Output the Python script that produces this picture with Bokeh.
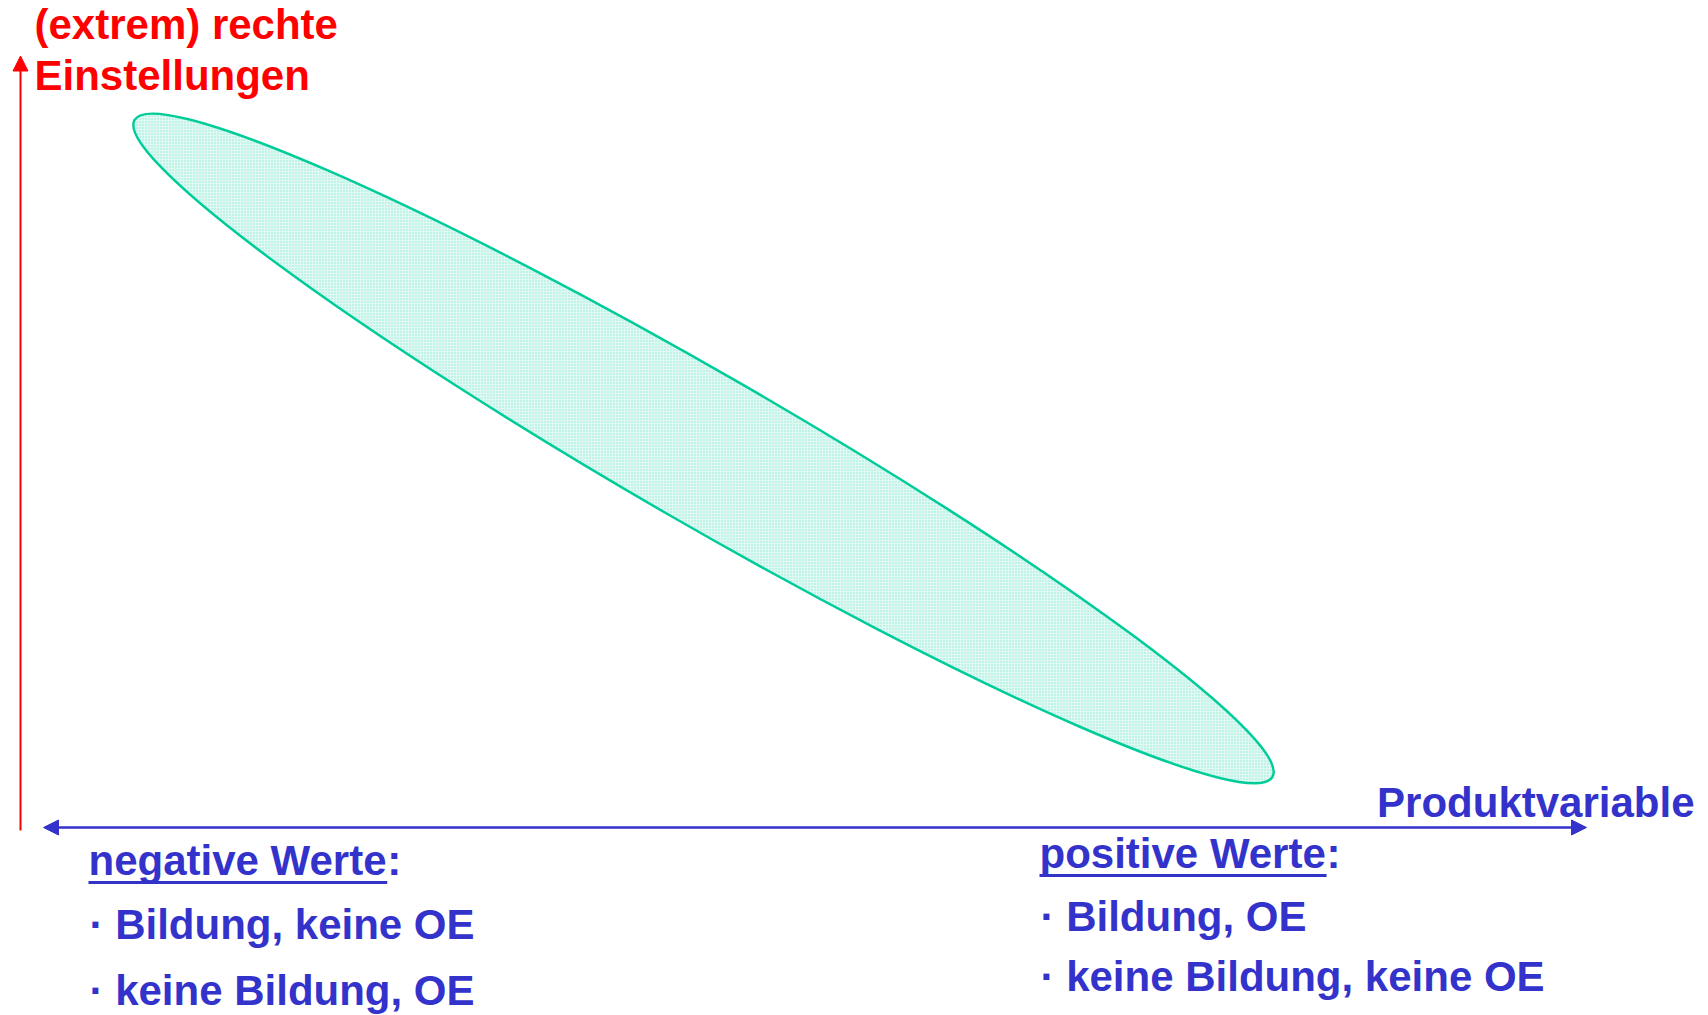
from bokeh.plotting import figure
from bokeh.models import Range1d, Label, Arrow, NormalHead, ColumnDataSource
from bokeh.embed import file_html
from bokeh.resources import INLINE

# ---------------- data ----------------
y_axis_title = ["(extrem) rechte", "Einstellungen"]
x_axis_title = "Produktvariable"
neg_title = "negative Werte"
neg_items = ["\u00b7 Bildung, keine OE", "\u00b7 keine Bildung, OE"]
pos_title = "positive Werte"
pos_items = ["\u00b7 Bildung, OE", "\u00b7 keine Bildung, keine OE"]

# cloud of cases (ellipse) in axis units: x in [-1, 1], y in [0, 1]
cloud_x = [-0.1445]
cloud_y = [0.4913]
cloud_major = [1.703]
cloud_minor = [0.194]
cloud_angle_deg = [-30.0]

x_axis_extent = [-1.0, 1.0]
y_axis_extent = [-0.004, 1.0]

# ---------------- layout helpers ----------------
W, H = 1708, 1015
S = 771.5              # px per axis unit
X0, Y0 = 814.5, 827.0  # page position of the origin

def dx(px):
    return (px - X0) / S

def dy(py):
    return (Y0 - py) / S

RED = "#FF0000"
BLUE = "#3333CC"
TEAL = "#00CC99"
FONT = "Liberation Sans"
FS = 42
BASE_SHIFT = 0.36 * FS  # label renderer draws the baseline this much below the anchor

# Arial/Liberation Sans Bold advance widths (per 1000 em)
ADV = {"n": 611, "e": 556, "g": 611, "a": 556, "t": 333, "i": 278, "v": 556,
       " ": 278, "W": 944, "r": 389, "p": 611, "o": 611, "s": 556}

def text_width(s):
    return sum(ADV.get(c, 556) for c in s) / 1000.0 * FS

p = figure(width=W, height=H, output_backend="svg", toolbar_location=None,
           x_range=Range1d(dx(0), dx(W)), y_range=Range1d(dy(H), dy(0)),
           x_axis_location=None, y_axis_location=None, min_border=0,
           outline_line_color=None, background_fill_color="white")
p.grid.visible = False

# ellipse
src = ColumnDataSource(dict(x=cloud_x, y=cloud_y, w=cloud_major, h=cloud_minor, a=cloud_angle_deg))
p.ellipse(x="x", y="y", width="w", height="h", angle="a", angle_units="deg", source=src,
          fill_color=TEAL, fill_alpha=0.12, line_color=TEAL, line_width=2.5,
          hatch_pattern="dot", hatch_color=TEAL, hatch_alpha=0.35, hatch_scale=3, hatch_weight=1)

# red vertical axis
p.add_layout(Arrow(x_start=dx(20), y_start=y_axis_extent[0], x_end=dx(20), y_end=y_axis_extent[1],
                   line_color=RED, line_width=2,
                   end=NormalHead(size=15, fill_color=RED, line_color=RED, line_width=1)))

# blue horizontal double arrow
p.add_layout(Arrow(x_start=x_axis_extent[0], y_start=0, x_end=x_axis_extent[1], y_end=0,
                   line_color=BLUE, line_width=2.5,
                   start=NormalHead(size=15, fill_color=BLUE, line_color=BLUE, line_width=1),
                   end=NormalHead(size=15, fill_color=BLUE, line_color=BLUE, line_width=1)))

def lab(text, px, py, color, align="left"):
    p.add_layout(Label(x=dx(px), y=dy(py - BASE_SHIFT), text=text, text_font=FONT,
                       text_font_style="bold", text_font_size=f"{FS}px", text_color=color,
                       text_align=align, text_baseline="alphabetic"))

# y axis title
lab(y_axis_title[0], 34, 39, RED)
lab(y_axis_title[1], 34, 90, RED)

# x axis title
lab(x_axis_title, 1694, 817, BLUE, align="right")

# negative / positive blocks
for title, items, left, base, steps in [(neg_title, neg_items, 88, 875, (64, 130)),
                                         (pos_title, pos_items, 1039, 868, (63, 123))]:
    lab(title, left, base, BLUE)
    tw = text_width(title)
    lab(":", left + tw, base, BLUE)
    p.line(x=[dx(left), dx(left + tw)], y=[dy(base + 7), dy(base + 7)], line_color=BLUE, line_width=3)
    for st, it in zip(steps, items):
        lab(it, left + 1, base + st, BLUE)

open("out.html", "w").write(file_html(p, INLINE))
